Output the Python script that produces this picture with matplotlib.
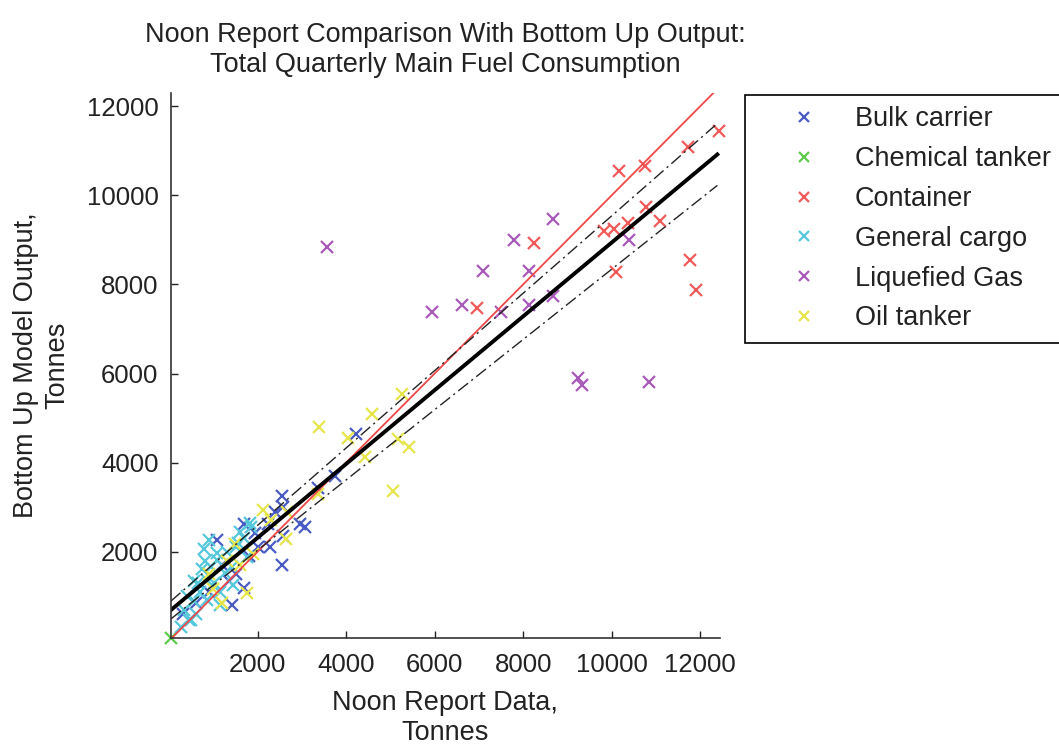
import matplotlib
matplotlib.use("Agg")
import matplotlib.pyplot as plt

plt.rcParams['font.family'] = ['Liberation Sans', 'DejaVu Sans']

# ship type groups (tonnes)
bulk_x = [4230, 3750, 3360, 2550, 2570, 3070, 1700, 2230, 2570, 2270, 2550, 1930, 1070,
          1700, 1410, 2950, 600, 300, 1500, 1800, 1200, 2000, 900, 2400, 1350]
bulk_y = [4650, 3690, 3440, 3240, 3010, 2560, 2610, 2610, 2340, 2110, 1710, 2420, 2270,
          1190, 810, 2610, 850, 600, 1500, 1900, 1700, 2100, 1100, 2900, 1350]

chem_x = [40]
chem_y = [60]

cont_x = [12430, 11730, 10750, 10160, 10770, 11090, 10360, 9820, 10045, 10110, 8250,
          6950, 11770, 11910]
cont_y = [11440, 11080, 10650, 10540, 9730, 9420, 9390, 9190, 9240, 8290, 8940,
          7480, 8560, 7870]

gen_x = [1550, 1090, 800, 730, 860, 640, 1020, 1250, 340, 500, 860, 1410, 1750, 270,
         1600, 910, 700, 550, 1150, 950, 1300, 400, 1700, 1150, 600, 1450, 780, 1850,
         1820, 570, 1070, 450, 1520]
gen_y = [2200, 1980, 1780, 1600, 1370, 1300, 1300, 1530, 700, 470, 920, 1660, 1890, 310,
         2450, 2270, 1100, 900, 1100, 1650, 2000, 1000, 2300, 800, 600, 1250, 2050, 2550,
         2650, 1330, 1820, 470, 2110]

lng_x = [3570, 5950, 6610, 7090, 7800, 8140, 8680, 7500, 8140, 8680, 10390, 9230, 9340, 10840]
lng_y = [8850, 7390, 7530, 8310, 8990, 8310, 9460, 7390, 7530, 7730, 8990, 5890, 5750, 5800]

oil_x = [5270, 4590, 3390, 4050, 5160, 5410, 4430, 5050, 2110, 2660, 2640, 1750, 1200,
         1480, 3360, 1900, 1600, 1000, 2300, 900, 1300]
oil_y = [5550, 5080, 4790, 4560, 4520, 4360, 4130, 3370, 2940, 2880, 2290, 1080, 850,
         2160, 3300, 1950, 1700, 1150, 2700, 1500, 1800]

# fitted line and its bounds (end points)
fit_x = [40, 12390]
fit_y = [690, 10920]
upper_y = [890, 11615]
lower_y = [490, 10225]
ident_x = [40, 12430]

groups = [
    ('Bulk carrier', bulk_x, bulk_y, '#4a5cc4'),
    ('Chemical tanker', chem_x, chem_y, '#5ecb4c'),
    ('Container', cont_x, cont_y, '#f25a5a'),
    ('General cargo', gen_x, gen_y, '#55c8dc'),
    ('Liquefied Gas', lng_x, lng_y, '#a85ab8'),
    ('Oil tanker', oil_x, oil_y, '#e6e64a'),
]

fig = plt.figure(figsize=(10.59, 7.44), dpi=100)
ax = fig.add_axes([171 / 1059, 1 - 638 / 744, (720 - 171) / 1059, (638 - 93) / 744])

handles = []
for name, xs, ys, col in groups:
    h, = ax.plot(xs, ys, 'x', color=col, markersize=9, markeredgewidth=1.6,
                 label=name, clip_on=False)
    handles.append(h)

band = (0, (9, 3, 1.5, 3))
ax.plot(ident_x, ident_x, color='#f04848', lw=1.3)
ax.plot(fit_x, upper_y, color='#222222', lw=1.0, linestyle=band)
ax.plot(fit_x, lower_y, color='#222222', lw=1.0, linestyle=band)
ax.plot(fit_x, fit_y, color='black', lw=2.8)

ax.set_xlim(40, 12450)
ax.set_ylim(60, 12300)
ax.set_xticks([2000, 4000, 6000, 8000, 10000, 12000])
ax.set_yticks([2000, 4000, 6000, 8000, 10000, 12000])

for side in ['top', 'right']:
    ax.spines[side].set_visible(False)
for side in ['left', 'bottom']:
    ax.spines[side].set_linewidth(1.2)
    ax.spines[side].set_color('#333333')
ax.tick_params(direction='in', length=5, width=1, labelsize=18.5, colors='#222222')
ax.tick_params(axis='x', pad=11)
ax.tick_params(axis='y', pad=9)

ax.set_title('Noon Report Comparison With Bottom Up Output:\nTotal Quarterly Main Fuel Consumption',
             fontsize=19.5, color='#222222', pad=15, linespacing=1.2)
ax.set_xlabel('Noon Report Data,\nTonnes', fontsize=19.5, color='#222222', labelpad=9,
              linespacing=1.2)
ax.set_ylabel('Bottom Up Model Output,\nTonnes', fontsize=19.5, color='#222222', labelpad=12,
              linespacing=1.25)

leg = fig.legend(handles=handles, loc='upper left', bbox_to_anchor=(745 / 1059, 1 - 95 / 744),
                 fontsize=19.5, numpoints=1, markerscale=0.8, handlelength=3.5,
                 handletextpad=0.13, borderpad=0.42, labelspacing=0.51,
                 fancybox=False, framealpha=1, borderaxespad=0)
leg.get_frame().set_edgecolor('black')
leg.get_frame().set_linewidth(1.2)
for t in leg.get_texts():
    t.set_color('#222222')

fig.savefig('out.png', dpi=100)
